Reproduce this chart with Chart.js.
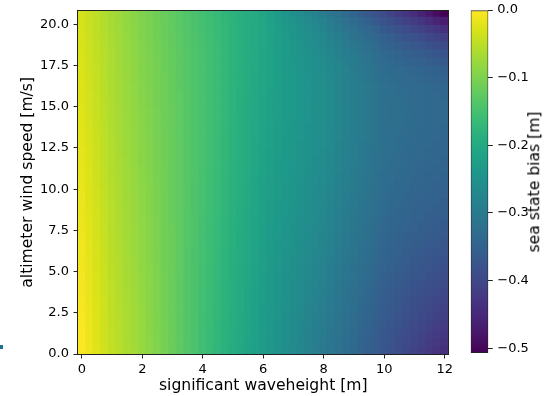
<!DOCTYPE html>
<html lang="en">
<head>
<meta charset="UTF-8">
<title>Sea state bias</title>
<script src="https://cdn.jsdelivr.net/npm/chart.js@4.4.1/dist/chart.umd.min.js"></script>
<style>
  html, body { margin: 0; padding: 0; background: #fff; }
  #fig { position: relative; width: 546px; height: 396px; overflow: hidden; }
  #fig canvas { position: absolute; left: 0; top: 0; }
  #cbLabel {
    position: absolute; left: 534.5px; top: 182px;
    transform: translate(-50%, -50%) rotate(-90deg);
    font: 15.6px "DejaVu Sans", sans-serif; line-height: 1;
    white-space: nowrap; color: #000;
  }
  #edgeMark { position: absolute; left: 0; top: 345px; width: 3px; height: 4px; background: #21708c; }
</style>
</head>
<body>
<div id="fig">
  <canvas id="heat" width="546" height="396"></canvas>
  <canvas id="cbar" width="546" height="396"></canvas>
  <div id="cbLabel">sea state bias [m]</div>
  <div id="edgeMark"></div>
</div>
<script>
Chart.defaults.font.family = '"DejaVu Sans", sans-serif';
Chart.defaults.color = '#000';

// significant wave height bins [m] (cell centres)
const swh = [0,0.25,0.5,0.75,1,1.25,1.5,1.75,2,2.25,2.5,2.75,3,3.25,3.5,3.75,4,4.25,4.5,4.75,5,5.25,5.5,5.75,6,
  6.25,6.5,6.75,7,7.25,7.5,7.75,8,8.25,8.5,8.75,9,9.25,9.5,9.75,10,10.25,10.5,10.75,11,11.25,11.5,11.75,12];

// altimeter wind speed bins [m/s] (cell centres)
const wind = [0.25,0.75,1.25,1.75,2.25,2.75,3.25,3.75,4.25,4.75,5.25,5.75,6.25,6.75,7.25,7.75,8.25,8.75,9.25,9.75,
  10.25,10.75,11.25,11.75,12.25,12.75,13.25,13.75,14.25,14.75,15.25,15.75,16.25,16.75,17.25,17.75,18.25,18.75,
  19.25,19.75,20.25,20.75];

// sea state bias [mm], one row per wind bin, one column per swh bin
const biasMm = [
  [0,-12,-23,-35,-46,-54,-62,-70,-78,-88,-97,-107,-117,-126,-136,-145,-155,-164,-174,-183,-193,-202,-211,-221,-230,-239,-248,-257,-266,-275,-284,-293,-302,-311,-320,-328,-337,-346,-355,-363,-372,-381,-389,-398,-406,-415,-423,-432,-440],
  [-1,-12,-24,-35,-47,-55,-63,-71,-79,-88,-98,-107,-117,-126,-136,-145,-155,-164,-173,-183,-192,-201,-211,-220,-229,-238,-247,-256,-265,-274,-283,-292,-301,-309,-318,-327,-335,-344,-352,-361,-370,-378,-386,-394,-402,-410,-418,-426,-434],
  [-2,-13,-24,-36,-47,-55,-63,-71,-79,-88,-98,-107,-117,-126,-135,-145,-154,-164,-173,-182,-192,-201,-210,-220,-229,-238,-246,-255,-264,-273,-281,-290,-299,-308,-316,-325,-333,-342,-350,-359,-368,-375,-383,-390,-398,-405,-413,-420,-427],
  [-2,-14,-25,-36,-48,-55,-63,-71,-79,-89,-98,-107,-117,-126,-135,-145,-154,-163,-173,-182,-191,-200,-210,-219,-228,-237,-246,-254,-263,-272,-280,-289,-298,-306,-314,-323,-331,-340,-348,-357,-365,-372,-380,-387,-394,-401,-407,-414,-421],
  [-3,-14,-26,-37,-48,-56,-64,-72,-80,-89,-98,-108,-117,-126,-135,-144,-154,-163,-172,-181,-191,-200,-209,-218,-228,-236,-245,-253,-262,-270,-279,-287,-296,-304,-313,-321,-330,-338,-346,-355,-363,-370,-377,-383,-390,-396,-402,-408,-414],
  [-4,-15,-26,-37,-49,-56,-64,-72,-80,-89,-99,-108,-117,-126,-135,-144,-153,-163,-172,-181,-190,-199,-209,-218,-227,-235,-244,-252,-261,-269,-277,-286,-294,-302,-311,-319,-327,-336,-344,-352,-361,-367,-374,-380,-386,-392,-397,-403,-409],
  [-5,-16,-27,-38,-49,-57,-65,-73,-81,-90,-99,-108,-117,-126,-135,-144,-153,-162,-171,-181,-190,-199,-208,-217,-226,-235,-243,-251,-259,-267,-276,-284,-292,-300,-309,-317,-325,-334,-342,-350,-359,-365,-371,-377,-383,-388,-393,-398,-403],
  [-6,-17,-28,-39,-50,-57,-65,-73,-81,-90,-99,-108,-117,-126,-135,-144,-153,-162,-171,-180,-189,-198,-208,-217,-226,-234,-242,-250,-258,-266,-274,-282,-290,-298,-307,-315,-323,-331,-340,-348,-356,-362,-368,-373,-379,-383,-388,-393,-398],
  [-6,-17,-28,-39,-50,-58,-66,-74,-82,-91,-99,-108,-117,-126,-135,-143,-152,-161,-171,-180,-189,-198,-207,-216,-225,-233,-241,-249,-257,-264,-272,-280,-288,-296,-305,-313,-321,-329,-338,-346,-354,-359,-365,-370,-375,-379,-384,-388,-392],
  [-7,-18,-29,-40,-51,-58,-66,-74,-82,-91,-100,-108,-117,-126,-135,-143,-152,-161,-170,-179,-188,-197,-206,-216,-225,-232,-240,-248,-255,-263,-271,-278,-286,-294,-302,-311,-319,-327,-335,-343,-352,-357,-362,-367,-372,-376,-380,-384,-388],
  [-8,-19,-30,-40,-51,-59,-67,-75,-83,-91,-100,-109,-117,-126,-134,-143,-152,-161,-170,-179,-188,-197,-206,-215,-224,-232,-239,-247,-254,-262,-269,-277,-284,-292,-300,-308,-317,-325,-333,-341,-349,-354,-359,-363,-368,-372,-376,-379,-383],
  [-9,-19,-30,-41,-52,-59,-67,-75,-83,-92,-100,-109,-117,-126,-134,-143,-151,-160,-169,-178,-187,-196,-205,-214,-223,-231,-238,-245,-253,-260,-267,-275,-282,-290,-298,-306,-314,-322,-330,-338,-347,-351,-356,-360,-365,-368,-372,-375,-379],
  [-10,-20,-31,-41,-52,-60,-68,-76,-84,-92,-100,-109,-117,-126,-134,-143,-151,-160,-169,-178,-187,-196,-205,-214,-223,-230,-237,-244,-251,-258,-266,-273,-280,-288,-296,-304,-312,-320,-328,-336,-344,-348,-353,-357,-361,-364,-368,-371,-374],
  [-10,-21,-31,-42,-52,-60,-68,-76,-84,-92,-101,-109,-117,-126,-134,-142,-151,-160,-169,-177,-186,-195,-204,-213,-222,-229,-236,-243,-250,-257,-264,-271,-278,-286,-294,-302,-310,-318,-326,-334,-342,-346,-350,-354,-358,-361,-364,-367,-371],
  [-11,-22,-32,-43,-53,-61,-69,-77,-84,-93,-101,-109,-117,-126,-134,-142,-150,-159,-168,-177,-186,-195,-203,-212,-221,-228,-235,-242,-249,-256,-263,-270,-277,-284,-292,-300,-308,-316,-324,-332,-340,-344,-348,-352,-356,-358,-361,-364,-367],
  [-12,-22,-33,-43,-54,-61,-69,-77,-85,-93,-101,-109,-117,-126,-134,-142,-150,-159,-168,-176,-185,-194,-203,-212,-221,-227,-234,-241,-248,-254,-261,-268,-275,-283,-291,-299,-306,-314,-322,-330,-338,-342,-345,-349,-353,-355,-358,-361,-364],
  [-13,-23,-33,-44,-54,-62,-70,-78,-85,-93,-101,-110,-118,-126,-134,-142,-150,-158,-167,-176,-185,-194,-202,-211,-220,-226,-233,-240,-246,-253,-260,-266,-273,-281,-289,-297,-305,-312,-320,-328,-336,-340,-343,-347,-350,-353,-355,-358,-360],
  [-14,-24,-34,-44,-54,-62,-70,-78,-86,-94,-102,-110,-118,-125,-133,-141,-149,-158,-167,-175,-184,-193,-202,-210,-219,-226,-232,-239,-245,-252,-258,-265,-272,-279,-287,-295,-303,-311,-319,-326,-334,-338,-341,-345,-348,-350,-353,-355,-358],
  [-14,-25,-35,-45,-55,-63,-71,-78,-86,-94,-102,-110,-118,-125,-133,-141,-149,-158,-166,-175,-184,-192,-201,-210,-218,-225,-231,-238,-244,-251,-257,-264,-270,-278,-286,-293,-301,-309,-317,-325,-333,-336,-339,-343,-346,-348,-351,-353,-355],
  [-15,-25,-35,-45,-56,-63,-71,-79,-87,-94,-102,-110,-118,-125,-133,-141,-149,-157,-166,-175,-183,-192,-200,-209,-218,-224,-230,-237,-243,-249,-256,-262,-268,-276,-284,-292,-300,-307,-315,-323,-331,-334,-337,-341,-344,-346,-348,-350,-353],
  [-16,-26,-36,-46,-56,-64,-72,-79,-87,-95,-102,-110,-118,-125,-133,-141,-148,-157,-165,-174,-183,-191,-200,-208,-217,-223,-230,-236,-242,-248,-255,-261,-267,-275,-283,-290,-298,-306,-314,-321,-329,-332,-336,-339,-342,-344,-346,-348,-350],
  [-17,-27,-37,-47,-57,-64,-72,-80,-88,-95,-103,-110,-118,-125,-133,-140,-148,-157,-165,-174,-182,-191,-199,-208,-216,-223,-229,-235,-241,-247,-253,-260,-266,-274,-281,-289,-297,-305,-312,-320,-328,-331,-334,-337,-341,-342,-344,-346,-348],
  [-18,-27,-37,-47,-57,-65,-73,-80,-88,-96,-103,-110,-118,-125,-133,-140,-148,-156,-165,-173,-182,-190,-199,-207,-216,-222,-228,-234,-240,-246,-252,-258,-265,-272,-280,-288,-296,-303,-311,-319,-327,-330,-333,-336,-339,-341,-343,-345,-346],
  [-18,-28,-38,-48,-58,-65,-73,-81,-89,-96,-103,-111,-118,-125,-133,-140,-147,-156,-164,-173,-181,-190,-198,-207,-215,-221,-227,-233,-239,-245,-251,-257,-263,-271,-279,-287,-294,-302,-310,-318,-325,-328,-331,-334,-338,-339,-341,-343,-345],
  [-19,-29,-39,-48,-58,-66,-74,-81,-89,-96,-104,-111,-118,-125,-133,-140,-147,-155,-164,-172,-181,-189,-198,-206,-215,-221,-226,-232,-238,-244,-250,-256,-262,-270,-278,-285,-293,-301,-309,-316,-324,-327,-330,-333,-336,-338,-340,-341,-343],
  [-20,-30,-39,-49,-59,-66,-74,-82,-90,-97,-104,-111,-118,-125,-133,-140,-147,-155,-164,-172,-181,-189,-197,-206,-214,-220,-226,-232,-238,-244,-249,-255,-261,-269,-277,-285,-292,-300,-308,-316,-323,-326,-329,-332,-335,-337,-339,-340,-342],
  [-21,-30,-40,-49,-59,-67,-75,-82,-90,-97,-104,-111,-118,-126,-133,-140,-147,-155,-164,-172,-180,-189,-197,-205,-213,-219,-225,-231,-237,-243,-249,-255,-260,-268,-276,-284,-292,-299,-307,-315,-322,-325,-328,-331,-334,-336,-338,-339,-341],
  [-22,-31,-41,-50,-60,-67,-75,-83,-90,-97,-105,-112,-119,-126,-133,-140,-147,-155,-163,-172,-180,-188,-196,-205,-213,-219,-225,-230,-236,-242,-248,-254,-260,-268,-275,-283,-291,-299,-306,-314,-322,-325,-327,-330,-333,-335,-337,-338,-340],
  [-22,-32,-41,-51,-60,-68,-75,-83,-91,-98,-105,-112,-119,-126,-133,-140,-147,-155,-163,-171,-180,-188,-196,-204,-212,-218,-224,-230,-236,-241,-247,-253,-259,-267,-275,-282,-290,-298,-306,-313,-321,-324,-327,-329,-332,-334,-336,-337,-339],
  [-23,-33,-42,-51,-61,-68,-76,-84,-91,-98,-105,-112,-119,-126,-133,-140,-147,-155,-163,-171,-179,-187,-195,-204,-212,-218,-223,-229,-235,-241,-247,-253,-259,-267,-275,-282,-290,-298,-306,-313,-321,-324,-327,-329,-332,-334,-336,-337,-339],
  [-24,-33,-43,-52,-61,-69,-76,-84,-92,-99,-106,-113,-119,-126,-133,-140,-147,-155,-163,-171,-179,-187,-195,-203,-211,-217,-223,-229,-235,-241,-247,-253,-259,-267,-275,-282,-290,-298,-306,-313,-321,-324,-327,-329,-332,-334,-336,-337,-339],
  [-25,-34,-43,-52,-62,-69,-77,-85,-92,-99,-106,-113,-120,-126,-133,-140,-147,-155,-163,-171,-179,-187,-195,-203,-210,-217,-223,-229,-235,-241,-247,-253,-259,-267,-275,-283,-291,-298,-306,-314,-322,-325,-328,-331,-334,-335,-337,-339,-341],
  [-26,-35,-44,-53,-62,-70,-77,-85,-93,-99,-106,-113,-120,-127,-133,-140,-147,-155,-163,-171,-178,-186,-194,-202,-210,-216,-222,-228,-235,-241,-247,-253,-259,-267,-275,-283,-291,-299,-307,-315,-323,-326,-329,-332,-335,-337,-339,-341,-343],
  [-26,-35,-44,-53,-63,-70,-78,-86,-93,-100,-107,-113,-120,-127,-134,-140,-147,-155,-163,-170,-178,-186,-194,-202,-209,-216,-222,-228,-235,-241,-247,-254,-260,-268,-276,-285,-293,-301,-309,-317,-326,-329,-332,-335,-339,-341,-344,-346,-349],
  [-27,-36,-45,-54,-63,-71,-78,-86,-94,-100,-107,-114,-120,-127,-134,-140,-147,-155,-162,-170,-178,-186,-193,-201,-209,-216,-222,-229,-235,-242,-248,-255,-261,-269,-278,-286,-295,-303,-311,-320,-328,-332,-335,-339,-342,-345,-348,-351,-354],
  [-28,-37,-46,-55,-64,-71,-79,-86,-94,-101,-107,-114,-121,-127,-134,-140,-147,-155,-162,-170,-178,-185,-193,-201,-208,-215,-222,-229,-236,-243,-249,-256,-263,-272,-280,-289,-298,-306,-315,-324,-333,-337,-341,-345,-350,-353,-357,-361,-365],
  [-29,-38,-46,-55,-64,-72,-79,-87,-95,-101,-108,-114,-121,-127,-134,-140,-147,-155,-162,-170,-178,-185,-193,-200,-208,-215,-222,-229,-237,-244,-251,-258,-265,-274,-283,-292,-301,-310,-319,-328,-337,-342,-347,-352,-357,-362,-366,-371,-375],
  [-30,-38,-47,-56,-65,-72,-80,-87,-95,-102,-108,-115,-122,-128,-135,-141,-148,-155,-163,-170,-178,-185,-193,-200,-207,-215,-223,-230,-238,-246,-253,-261,-269,-278,-287,-297,-306,-316,-325,-335,-344,-350,-356,-362,-368,-374,-380,-386,-392],
  [-30,-39,-48,-56,-65,-73,-80,-88,-96,-102,-109,-116,-122,-129,-136,-142,-149,-156,-164,-171,-178,-185,-193,-200,-207,-215,-223,-231,-240,-248,-256,-264,-272,-282,-292,-302,-313,-323,-333,-343,-353,-360,-368,-375,-382,-390,-398,-405,-413],
  [-31,-40,-48,-57,-66,-73,-81,-88,-96,-103,-109,-116,-123,-130,-136,-143,-150,-157,-164,-171,-179,-186,-193,-200,-207,-216,-225,-234,-243,-251,-260,-269,-278,-289,-300,-310,-321,-332,-343,-353,-364,-373,-381,-390,-398,-408,-418,-428,-438],
  [-32,-41,-49,-58,-66,-74,-81,-89,-96,-103,-110,-117,-124,-131,-137,-144,-151,-158,-165,-172,-179,-186,-193,-200,-207,-217,-227,-237,-247,-256,-266,-276,-286,-297,-309,-320,-332,-343,-354,-366,-377,-387,-398,-408,-418,-431,-443,-456,-468],
  [-33,-41,-50,-58,-67,-74,-82,-89,-97,-104,-111,-118,-125,-132,-139,-146,-153,-160,-167,-174,-181,-187,-194,-201,-208,-219,-230,-241,-253,-264,-275,-286,-297,-309,-321,-333,-345,-357,-369,-381,-393,-406,-418,-431,-443,-459,-475,-491,-507]
];

const xTicks = [0, 2, 4, 6, 8, 10, 12];
const yTicks = [0, 2.5, 5, 7.5, 10, 12.5, 15, 17.5, 20];
const cbTicks = [0, -0.1, -0.2, -0.3, -0.4, -0.5];

// viridis colormap, 20 evenly spaced stops
const viridis = ['#440154','#481568','#482677','#453781','#3F4788','#39558C','#32648E','#2D718E','#287D8E','#238A8D',
  '#1F968B','#20A386','#29AF7F','#3CBC75','#56C667','#75D054','#95D840','#B8DE29','#DCE318','#FDE725'];
const rgbStops = viridis.map(h => [1, 3, 5].map(i => parseInt(h.slice(i, i + 2), 16)));

function viridisColor(t) {
  t = Math.min(1, Math.max(0, t));
  const p = t * (rgbStops.length - 1);
  const i = Math.min(Math.floor(p), rgbStops.length - 2);
  const f = p - i;
  const c = rgbStops[i].map((a, k) => Math.round(a + (rgbStops[i + 1][k] - a) * f));
  return `rgb(${c[0]},${c[1]},${c[2]})`;
}

const bias = biasMm.map(row => row.map(v => v / 1000));
const allValues = bias.flat();
const vmin = Math.min(...allValues);
const vmax = Math.max(...allValues);

// one floating bar per mesh cell, spanning the wind-speed bin
const halfRow = (wind[1] - wind[0]) / 2;
const cells = [];
wind.forEach((u, r) => {
  swh.forEach((h, c) => {
    cells.push({ x: h, y: [u - halfRow, u + halfRow], v: bias[r][c] });
  });
});

const tickFont = { size: 13 };
const titleFont = { size: 15.6 };
const tickGrid = { display: true, drawOnChartArea: false, drawTicks: true, tickLength: 4.5, tickColor: '#222', tickWidth: 1 };

// black box round the plotting area
const frame = {
  id: 'frame',
  afterDatasetsDraw(chart) {
    const { ctx, chartArea: a } = chart;
    const x0 = Math.floor(a.left) - 0.5, x1 = Math.floor(a.right) + 0.5;
    const y0 = Math.floor(a.top) + 0.5, y1 = Math.floor(a.bottom) + 0.5;
    ctx.save();
    ctx.strokeStyle = '#222';
    ctx.lineWidth = 1;
    ctx.strokeRect(x0, y0, x1 - x0, y1 - y0);
    ctx.restore();
  }
};

new Chart(document.getElementById('heat'), {
  type: 'bar',
  data: {
    datasets: [{
      data: cells,
      backgroundColor: ctx => ctx.raw ? viridisColor((ctx.raw.v - vmin) / (vmax - vmin)) : 'transparent',
      borderWidth: 0,
      inflateAmount: 0.5,
      grouped: false,
      barPercentage: 1,
      categoryPercentage: 1,
      clip: 0
    }]
  },
  options: {
    responsive: false,
    animation: false,
    devicePixelRatio: 1,
    layout: { padding: { left: 0, top: 10.7, right: 97.5, bottom: 0 } },
    plugins: { legend: { display: false }, tooltip: { enabled: false } },
    scales: {
      x: {
        type: 'linear', min: -0.125, max: 12.125, offset: false,
        grid: { ...tickGrid, offset: false },
        border: { display: false },
        ticks: { font: tickFont, padding: 3.5, maxRotation: 0, autoSkip: false, callback: v => String(v) },
        afterBuildTicks: s => { s.ticks = xTicks.map(value => ({ value })); },
        afterFit: s => { s.height = 42; s.paddingLeft = 0; s.paddingRight = 0; },
        title: { display: true, text: 'significant waveheight [m]', font: titleFont, padding: { top: 0, bottom: 0.3 } }
      },
      y: {
        type: 'linear', min: 0, max: 20.83,
        grid: tickGrid,
        border: { display: false },
        ticks: { font: tickFont, padding: 4.5, autoSkip: false, callback: v => v.toFixed(1) },
        afterBuildTicks: s => { s.ticks = yTicks.map(value => ({ value })); },
        afterFit: s => { s.width = 78; s.paddingTop = 0; s.paddingBottom = 0; },
        title: { display: true, text: 'altimeter wind speed [m/s]', font: titleFont, padding: { top: 18.2, bottom: 0 } }
      }
    }
  },
  plugins: [frame]
});

// colour bar
new Chart(document.getElementById('cbar'), {
  type: 'bar',
  data: {
    labels: [''],
    datasets: [{
      data: [[vmin, vmax]],
      backgroundColor: ctx => {
        const chart = ctx.chart;
        if (!chart.chartArea) return 'transparent';
        const y = chart.scales.y;
        const g = chart.ctx.createLinearGradient(0, y.getPixelForValue(vmin), 0, y.getPixelForValue(vmax));
        viridis.forEach((c, i) => g.addColorStop(i / (viridis.length - 1), c));
        return g;
      },
      borderColor: '#222',
      borderWidth: 1,
      borderSkipped: false,
      barPercentage: 1,
      categoryPercentage: 1,
      clip: 0
    }]
  },
  options: {
    responsive: false,
    animation: false,
    devicePixelRatio: 1,
    layout: { padding: { left: 470.7, top: 10, right: 0, bottom: 43 } },
    plugins: { legend: { display: false }, tooltip: { enabled: false } },
    scales: {
      x: { display: false },
      y: {
        position: 'right', min: vmin, max: vmax,
        grid: tickGrid,
        border: { display: false },
        ticks: {
          font: tickFont, padding: 4.5, autoSkip: false,
          callback: v => (v < -1e-9 ? '\u2212' : '') + Math.abs(v).toFixed(1)
        },
        afterBuildTicks: s => { s.ticks = cbTicks.map(value => ({ value })); },
        afterFit: s => { s.width = 57.7; s.paddingTop = 0; s.paddingBottom = 0; }
      }
    }
  }
});
</script>
</body>
</html>
